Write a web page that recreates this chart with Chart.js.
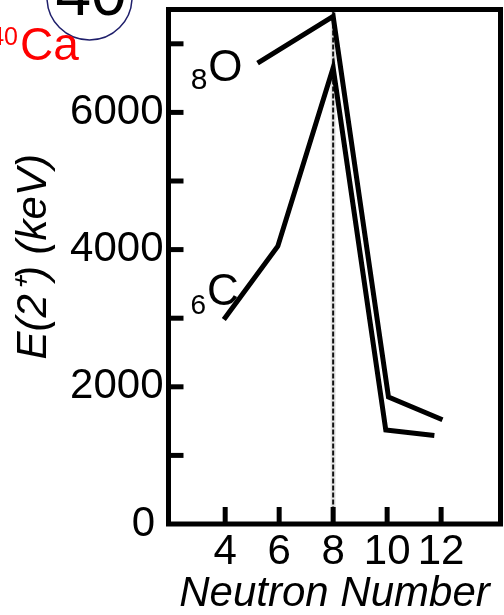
<!DOCTYPE html>
<html><head><meta charset="utf-8">
<script src="https://cdn.jsdelivr.net/npm/chart.js@4/dist/chart.umd.min.js"></script>
<style>html,body{margin:0;padding:0;background:#fff;overflow:hidden}</style>
</head><body>
<canvas id="c" width="504" height="615" style="display:block;width:504px;height:615px"></canvas>
<script>
// ---- data ----
const oxygenN = [5.2, 8, 10.05, 12.05];
const oxygenE = [6720, 7400, 1850, 1520];
const carbonN = [3.95, 5.95, 8, 9.95, 11.75];
const carbonE = [2980, 4050, 6650, 1370, 1290];
const xTickValues = [4, 6, 8, 10, 12];
const yTickValues = [0, 2000, 4000, 6000];
const yMinorTicks = [1000, 2000, 3000, 4000, 5000, 6000, 7000];
const magicNumber = 8;
const seriesNames = ['O', 'C'];
const seriesZ = ['8', '6'];

const FONT = '"Liberation Sans", Arial, Helvetica, sans-serif';

const framePlugin = {
  id: 'frame',
  beforeDatasetsDraw(chart) {
    const {ctx, chartArea: a, scales: {x}} = chart;
    const px = x.getPixelForValue(magicNumber);
    ctx.save();
    ctx.strokeStyle = '#e4e4e4';
    ctx.lineWidth = 5;
    ctx.beginPath(); ctx.moveTo(px, a.top); ctx.lineTo(px, a.bottom); ctx.stroke();
    ctx.strokeStyle = '#111';
    ctx.lineWidth = 2;
    ctx.setLineDash([5, 2]);
    ctx.beginPath(); ctx.moveTo(px, a.top); ctx.lineTo(px, a.bottom); ctx.stroke();
    ctx.restore();
  },
  afterDatasetsDraw(chart) {
    const {ctx, chartArea: a, scales: {x, y}} = chart;
    ctx.save();
    ctx.strokeStyle = '#000';
    ctx.lineWidth = 5;
    ctx.lineJoin = 'miter';
    ctx.strokeRect(a.left, a.top, a.right - a.left, a.bottom - a.top);
    ctx.lineCap = 'butt';
    yMinorTicks.forEach(v => {
      const py = y.getPixelForValue(v);
      ctx.beginPath(); ctx.moveTo(a.left, py); ctx.lineTo(a.left + 15, py); ctx.stroke();
    });
    xTickValues.forEach(v => {
      const px = x.getPixelForValue(v);
      ctx.beginPath(); ctx.moveTo(px, a.bottom); ctx.lineTo(px, a.bottom - 17); ctx.stroke();
    });
    ctx.fillStyle = '#000';
    ctx.textBaseline = 'alphabetic';
    const oX = x.getPixelForValue(oxygenN[0]), oY = y.getPixelForValue(oxygenE[0]);
    ctx.textAlign = 'right';
    ctx.font = '44px ' + FONT;
    ctx.fillText(seriesNames[0], oX - 15, oY + 18);
    const wO = ctx.measureText(seriesNames[0]).width;
    ctx.font = '30px ' + FONT;
    ctx.fillText(seriesZ[0], oX - 15 - wO - 1, oY + 26);
    const cX = x.getPixelForValue(carbonN[0]), cY = y.getPixelForValue(carbonE[0]);
    ctx.font = '44px ' + FONT;
    ctx.fillText(seriesNames[1], cX + 15, cY - 15);
    const wC = ctx.measureText(seriesNames[1]).width;
    ctx.font = '28px ' + FONT;
    ctx.fillText(seriesZ[1], cX + 15 - wC - 1, cY - 6);
    ctx.restore();
  },
  afterDraw(chart) {
    const {ctx} = chart;
    ctx.save();
    ctx.strokeStyle = '#1f1f6b';
    ctx.lineWidth = 1.5;
    ctx.beginPath(); ctx.arc(89.5, -2.5, 42.5, 0, Math.PI * 2); ctx.stroke();
    ctx.fillStyle = '#000';
    ctx.textAlign = 'center';
    ctx.textBaseline = 'alphabetic';
    ctx.font = '64px ' + FONT;
    ctx.fillText('40', 91, 15);
    ctx.fillStyle = '#ff0000';
    ctx.textAlign = 'left';
    ctx.font = '46px ' + FONT;
    ctx.fillText('Ca', 20, 60);
    ctx.textAlign = 'right';
    ctx.font = '25px ' + FONT;
    ctx.fillText('40', 18, 45);
    ctx.restore();
  }
};

new Chart(document.getElementById('c'), {
  type: 'line',
  data: {
    datasets: [
      { label: '8O', data: oxygenN.map((n, i) => ({x: n, y: oxygenE[i]})),
        borderColor: '#000', borderWidth: 5, pointRadius: 0, fill: false, tension: 0,
        borderCapStyle: 'butt', borderJoinStyle: 'miter' },
      { label: '6C', data: carbonN.map((n, i) => ({x: n, y: carbonE[i]})),
        borderColor: '#000', borderWidth: 5, pointRadius: 0, fill: false, tension: 0,
        borderCapStyle: 'butt', borderJoinStyle: 'miter' }
    ]
  },
  options: {
    responsive: false,
    animation: false,
    devicePixelRatio: 1,
    layout: { padding: { top: 9.5, right: 3.5, left: 0, bottom: 0 } },
    plugins: { legend: { display: false }, tooltip: { enabled: false } },
    scales: {
      x: {
        type: 'linear', min: 1.9, max: 14.2,
        afterBuildTicks: s => { s.ticks = xTickValues.map(v => ({value: v})); },
        grid: { display: false, drawTicks: false },
        border: { display: false },
        ticks: { color: '#000', padding: 3, maxRotation: 0, autoSkip: false,
                 font: { family: FONT, size: 42 } },
        title: { display: true, text: 'Neutron Number', color: '#000', padding: 0,
                 font: { family: FONT, size: 42, style: 'italic', lineHeight: 1 } },
        afterFit: s => { s.height = 91; s.paddingLeft = 0; s.paddingRight = 0; }
      },
      y: {
        min: 0, max: 7500,
        afterBuildTicks: s => { s.ticks = yTickValues.map(v => ({value: v})); },
        grid: { display: false, drawTicks: false },
        border: { display: false },
        ticks: { color: '#000', padding: 5, autoSkip: false,
                 font: { family: FONT, size: 42 },
                 callback: v => v === 0 ? '0\u2009' : String(v) },
        title: { display: true, text: ' \u2009E(2\u207A) (keV)', color: '#000', padding: { top: 13, bottom: 0 },
                 font: { family: FONT, size: 42, style: 'italic', lineHeight: 1 } },
        afterFit: s => { s.width = 168.5; s.paddingTop = 0; s.paddingBottom = 0; }
      }
    }
  },
  plugins: [framePlugin]
});
</script>
</body></html>
